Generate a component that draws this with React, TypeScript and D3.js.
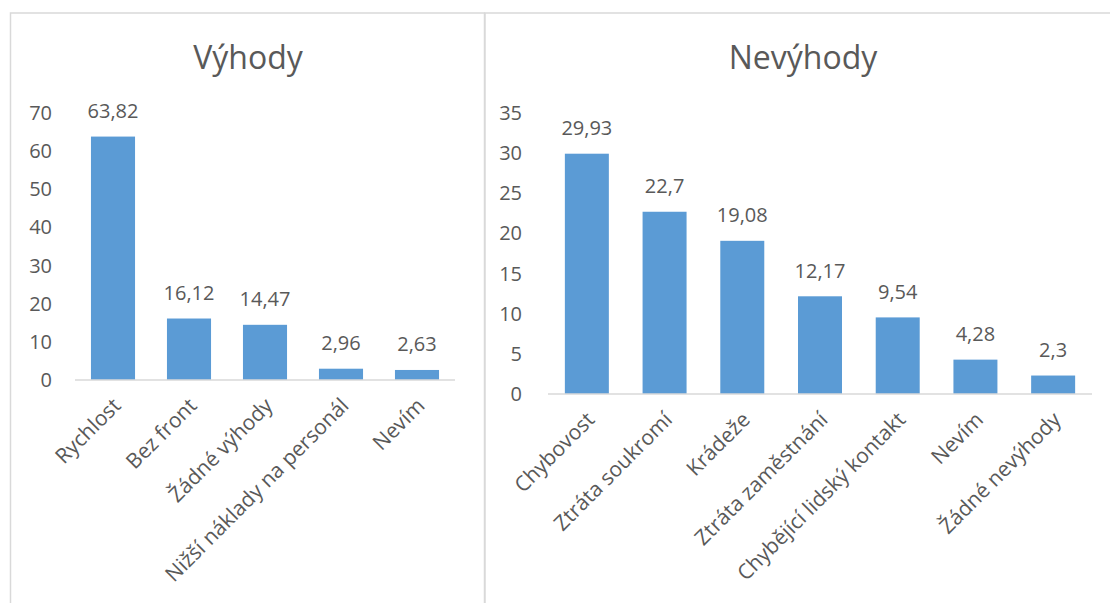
import React from "react";
import * as d3 from "d3";

const advCategories = ["Rychlost", "Bez front", "Žádné výhody", "Nižší náklady na personál", "Nevím"];
const advValues = [63.82, 16.12, 14.47, 2.96, 2.63];
const advTicks = [0, 10, 20, 30, 40, 50, 60, 70];

const disCategories = [
  "Chybovost",
  "Ztráta soukromí",
  "Krádeže",
  "Ztráta zaměstnání",
  "Chybějící lidský kontakt",
  "Nevím",
  "Žádné nevýhody",
];
const disValues = [29.93, 22.7, 19.08, 12.17, 9.54, 4.28, 2.3];
const disTicks = [0, 5, 10, 15, 20, 25, 30, 35];

const BAR = "#5B9BD5";
const TEXT = "#595959";
const GRID = "#D9D9D9";
const FONT = "'Open Sans', 'Noto Sans', sans-serif";

const fmt = (v: number) => String(v).replace(".", ",");

type PanelProps = {
  title: string;
  categories: string[];
  values: number[];
  ticks: number[];
  frameX: number;
  frameW: number;
  titleX: number;
  x0: number;
  x1: number;
  y0: number;
  y1: number;
  tickX: number;
  padding: number;
};

function Panel(p: PanelProps) {
  const x = d3
    .scaleBand<string>()
    .domain(p.categories)
    .range([p.x0, p.x1])
    .paddingInner(p.padding)
    .paddingOuter(p.padding / 2);
  const maxTick = p.ticks[p.ticks.length - 1];
  const y = d3.scaleLinear().domain([0, maxTick]).range([p.y0, p.y1]);
  return (
    <g>
      <rect x={p.frameX} y={13} width={p.frameW} height={640} fill="#fff" stroke={GRID} strokeWidth={1.5} />
      <text x={p.titleX} y={69} textAnchor="middle" fontSize={32} fill={TEXT} fontFamily={FONT}>
        {p.title}
      </text>
      {p.ticks.map((t) => (
        <text key={t} x={p.tickX} y={y(t)} dy="0.35em" textAnchor="end" fontSize={20} fill={TEXT} fontFamily={FONT}>
          {t}
        </text>
      ))}
      {p.categories.map((c, i) => (
        <rect key={c} x={x(c)} y={y(p.values[i])} width={x.bandwidth()} height={p.y0 - y(p.values[i])} fill={BAR} />
      ))}
      <line x1={p.x0} x2={p.x1} y1={p.y0} y2={p.y0} stroke={GRID} strokeWidth={1.5} />
      {p.categories.map((c, i) => (
        <text
          key={c + "v"}
          x={(x(c) as number) + x.bandwidth() / 2}
          y={y(p.values[i]) - 18.5}
          textAnchor="middle"
          fontSize={20}
          fill={TEXT}
          fontFamily={FONT}
        >
          {fmt(p.values[i])}
        </text>
      ))}
      {p.categories.map((c) => {
        const cx = (x(c) as number) + x.bandwidth() / 2 + 9;
        const cy = p.y0 + 27;
        return (
          <text
            key={c + "l"}
            x={cx}
            y={cy}
            transform={`rotate(-45, ${cx}, ${cy})`}
            textAnchor="end"
            fontSize={21}
            fill={TEXT}
            fontFamily={FONT}
          >
            {c}
          </text>
        );
      })}
    </g>
  );
}

export default function App() {
  return (
    <svg
      width={1110}
      height={603}
      style={{ position: "absolute", left: 0, top: 0, background: "#fff" }}
    >
      <rect width={1110} height={603} fill="#fff" />
      <Panel
        title="Výhody"
        categories={advCategories}
        values={advValues}
        ticks={advTicks}
        frameX={10.5}
        frameW={474}
        titleX={248}
        x0={75}
        x1={455}
        y0={380}
        y1={113}
        tickX={52}
        padding={0.42}
      />
      <Panel
        title="Nevýhody"
        categories={disCategories}
        values={disValues}
        ticks={disTicks}
        frameX={485}
        frameW={640}
        titleX={803}
        x0={548}
        x1={1092}
        y0={394}
        y1={113}
        tickX={522}
        padding={0.434}
      />
    </svg>
  );
}
